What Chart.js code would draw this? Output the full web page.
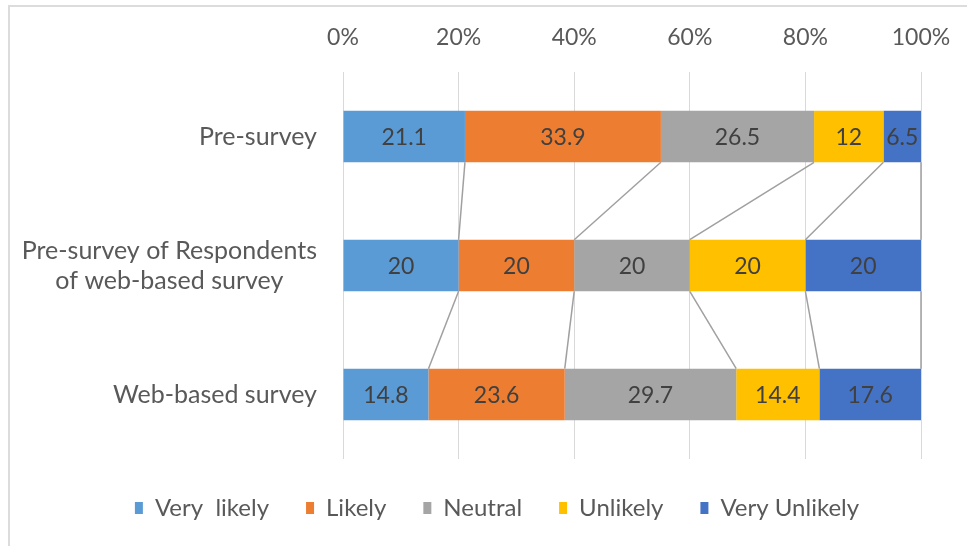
<!DOCTYPE html>
<html lang="en">

<head>
  <meta charset="UTF-8" />
  <title>Survey likelihood</title>
  <script src="https://cdn.jsdelivr.net/npm/chart.js"></script>
  <style>
    body { margin: 0; background: #fff; }
    .wrap { position: relative; width: 967px; height: 546px; }
    .frame {
      position: absolute; left: 8px; top: 5px; right: 0; bottom: 0;
      border-top: 2px solid #dcdcdc; border-left: 2px solid #dcdcdc;
    }
    canvas { position: absolute; left: 0; top: 0; }
  </style>
</head>

<body>
  <div class="wrap">
    <div class="frame"></div>
    <canvas id="surveyChart" width="967" height="546"></canvas>
  </div>
  <script>
    // data
    const categories = [
      ['Pre-survey'],
      ['Pre-survey of Respondents', 'of web-based survey'],
      ['Web-based survey']
    ];
    const seriesNames = ['Very  likely', 'Likely', 'Neutral', 'Unlikely', 'Very Unlikely'];
    const veryLikely = [21.1, 20, 14.8];
    const likely = [33.9, 20, 23.6];
    const neutral = [26.5, 20, 29.7];
    const unlikely = [12, 20, 14.4];
    const veryUnlikely = [6.5, 20, 17.6];
    const xTicks = [0, 20, 40, 60, 80, 100];

    const colors = ['#5b9bd5', '#ed7d31', '#a5a5a5', '#ffc000', '#4472c4'];
    const seriesValues = [veryLikely, likely, neutral, unlikely, veryUnlikely];

    // 100% stacked: scale each row by its total
    const rowTotals = categories.map((c, i) => seriesValues.reduce((s, arr) => s + arr[i], 0));

    const fontFamily = 'Lato, "Open Sans", sans-serif';
    const fontSize = 23;

    // grey series lines between bars
    const seriesLines = {
      id: 'seriesLines',
      beforeDatasetsDraw(chart) {
        const ctx = chart.ctx;
        ctx.save();
        ctx.strokeStyle = '#a0a0a0';
        ctx.lineWidth = 1.5;
        chart.data.datasets.forEach((ds, d) => {
          const bars = chart.getDatasetMeta(d).data;
          for (let i = 0; i < bars.length - 1; i++) {
            const a = bars[i], b = bars[i + 1];
            ctx.beginPath();
            ctx.moveTo(a.x, a.y + a.height / 2);
            ctx.lineTo(b.x, b.y - b.height / 2);
            ctx.stroke();
          }
        });
        ctx.restore();
      }
    };

    // value labels in the middle of each segment
    const valueLabels = {
      id: 'valueLabels',
      afterDatasetsDraw(chart) {
        const ctx = chart.ctx;
        ctx.save();
        ctx.font = fontSize + 'px ' + fontFamily;
        ctx.fillStyle = '#404040';
        ctx.textAlign = 'center';
        ctx.textBaseline = 'middle';
        chart.data.datasets.forEach((ds, d) => {
          chart.getDatasetMeta(d).data.forEach((bar, i) => {
            ctx.fillText(String(ds.raw[i]), (bar.x + bar.base) / 2, bar.y + 1);
          });
        });
        ctx.restore();
      }
    };

    // category labels, multi-line ones centred on their widest line
    const categoryLabels = {
      id: 'categoryLabels',
      afterDraw(chart) {
        const ctx = chart.ctx;
        const yScale = chart.scales.y;
        const right = 317;
        const lineH = 30;
        ctx.save();
        ctx.font = '25px ' + fontFamily;
        ctx.fillStyle = '#595959';
        ctx.textAlign = 'center';
        ctx.textBaseline = 'middle';
        categories.forEach((lines, i) => {
          const y = yScale.getPixelForTick(i);
          const widest = Math.max(...lines.map(l => ctx.measureText(l).width));
          const cx = right - widest / 2;
          const y0 = y - (lines.length - 1) * lineH / 2;
          lines.forEach((l, k) => ctx.fillText(l, cx, y0 + k * lineH));
        });
        ctx.restore();
      }
    };

    const ctx = document.getElementById('surveyChart').getContext('2d');
    const surveyChart = new Chart(ctx, {
      type: 'bar',
      data: {
        labels: categories,
        datasets: seriesNames.map((name, d) => ({
          label: name,
          data: seriesValues[d].map((v, i) => v / rowTotals[i] * 100),
          raw: seriesValues[d],
          backgroundColor: colors[d],
          borderWidth: 0,
          categoryPercentage: 1,
          barPercentage: 0.4
        }))
      },
      options: {
        indexAxis: 'y',
        responsive: false,
        animation: false,
        layout: { padding: { left: 73, right: 46, top: 0, bottom: 16 } },
        scales: {
          x: {
            position: 'top',
            stacked: true,
            min: 0,
            max: 100,
            afterBuildTicks: (scale) => { scale.ticks = xTicks.map(v => ({ value: v })); },
            afterFit: (scale) => {
              scale.height = 72;
              scale.paddingLeft = 0;
              scale.paddingRight = 0;
            },
            grid: { color: '#d9d9d9', lineWidth: 1, drawTicks: false },
            border: { display: false },
            ticks: {
              padding: 21,
              color: '#595959',
              font: { family: fontFamily, size: fontSize },
              callback: (v) => v + '%'
            }
          },
          y: {
            stacked: true,
            afterFit: (scale) => { scale.width = 270; },
            grid: { display: false },
            border: { display: false },
            ticks: { display: false }
          }
        },
        plugins: {
          legend: {
            position: 'bottom',
            labels: {
              boxWidth: 8,
              boxHeight: 12,
              padding: 37,
              color: '#595959',
              font: { family: fontFamily, size: 24 }
            }
          },
          tooltip: { enabled: false }
        }
      },
      plugins: [seriesLines, valueLabels, categoryLabels]
    });
  </script>
</body>

</html>
